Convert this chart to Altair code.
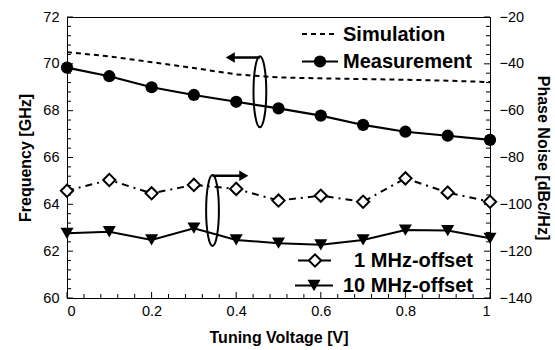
import altair as alt
import pandas as pd

# ---------------- data ----------------
voltage = [0.0, 0.1, 0.2, 0.3, 0.4, 0.5, 0.6, 0.7, 0.8, 0.9, 1.0]
sim_freq = [70.5, 70.32, 70.07, 69.82, 69.55, 69.42, 69.38, 69.35, 69.32, 69.28, 69.22]
meas_freq = [69.84, 69.47, 69.0, 68.67, 68.38, 68.1, 67.79, 67.39, 67.1, 66.93, 66.75]
pn_1mhz = [-94.2, -89.6, -95.3, -91.7, -93.4, -98.4, -96.3, -98.9, -88.9, -95.0, -98.9]
pn_10mhz = [-112.4, -111.7, -115.2, -110.2, -115.2, -116.6, -117.3, -115.2, -111.0, -111.2, -114.5]

x_ticks = [0, 0.2, 0.4, 0.6, 0.8, 1]
freq_ticks = [60, 62, 64, 66, 68, 70, 72]
pn_ticks = [-140, -120, -100, -80, -60, -40, -20]

x_minor = [round(i * 0.04, 2) for i in range(26)]
freq_minor = [round(60 + i * 0.4, 2) for i in range(31)]
pn_minor = [round(-140 + i * 4, 1) for i in range(31)]

W, H = 423, 281
FONT = "Liberation Sans"

df = pd.DataFrame({"v": voltage, "sim": sim_freq, "meas": meas_freq,
                   "pn1": pn_1mhz, "pn10": pn_10mhz})

xs = alt.Scale(domain=[0, 1], nice=False, zero=False)
fs = alt.Scale(domain=[60, 72], nice=False, zero=False)
ps = alt.Scale(domain=[-140, -20], nice=False, zero=False)

x_axis = alt.Axis(values=x_ticks, format="~g", title="Tuning Voltage [V]",
                  ticks=False, grid=False, labelPadding=6, titlePadding=12)
f_axis = alt.Axis(values=freq_ticks, format="d", title="Frequency [GHz]",
                  ticks=False, grid=False, labelPadding=8, titlePadding=9)
p_axis = alt.Axis(values=pn_ticks, format="d", title="Phase Noise [dBc/Hz]",
                  ticks=False, grid=False, orient="right", labelPadding=9, titlePadding=3)

X = alt.X("v:Q", scale=xs, axis=x_axis)

base = alt.Chart(df)

# frequency layers
sim_line = base.mark_line(color="black", strokeWidth=2, strokeDash=[5, 4]).encode(
    x=X, y=alt.Y("sim:Q", scale=fs, axis=f_axis))
meas_line = base.mark_line(color="black", strokeWidth=2.2).encode(
    x=X, y=alt.Y("meas:Q", scale=fs, axis=f_axis))
meas_pts = base.mark_point(shape="circle", filled=True, color="black", size=150, opacity=1).encode(
    x=X, y=alt.Y("meas:Q", scale=fs, axis=f_axis))

# minor/major ticks (inward)
fmaj = [v for v in freq_minor if abs(v / 2 - round(v / 2)) < 1e-6]
fmin = [v for v in freq_minor if v not in fmaj]
left_major = alt.Chart(pd.DataFrame({"f": fmaj})).mark_rule(color="black", strokeWidth=1).encode(
    y=alt.Y("f:Q", scale=fs, axis=f_axis), x=alt.value(0), x2=alt.value(6))
left_minor = alt.Chart(pd.DataFrame({"f": fmin})).mark_rule(color="black", strokeWidth=1).encode(
    y=alt.Y("f:Q", scale=fs, axis=f_axis), x=alt.value(0), x2=alt.value(4))

xmaj = [v for v in x_minor if abs(v * 5 - round(v * 5)) < 1e-6]
xmin = [v for v in x_minor if v not in xmaj]
bottom_major = alt.Chart(pd.DataFrame({"v": xmaj})).mark_rule(color="black", strokeWidth=1).encode(
    x=X, y=alt.value(H), y2=alt.value(H - 6))
bottom_minor = alt.Chart(pd.DataFrame({"v": xmin})).mark_rule(color="black", strokeWidth=1).encode(
    x=X, y=alt.value(H), y2=alt.value(H - 4))

# annotation: ellipses and arrows (in data coordinates)
ell_df = pd.DataFrame({"v": [0.456, 0.344], "f": [68.81, 63.74]})
ellipse_path = ("M0,-1 C0.099,-1 0.18,-0.552 0.18,0 C0.18,0.552 0.099,1 0,1 "
                "C-0.099,1 -0.18,0.552 -0.18,0 C-0.18,-0.552 -0.099,-1 0,-1 Z")
ellipses = alt.Chart(ell_df).mark_point(shape=ellipse_path, filled=False, color="black",
                                        strokeWidth=2, size=5041, opacity=1).encode(
    x=X, y=alt.Y("f:Q", scale=fs, axis=f_axis))

arr_df = pd.DataFrame({"v": [0.456, 0.344], "v2": [0.386, 0.418], "f": [70.27, 65.22],
                       "dir": ["triangle-left", "triangle-right"]})
arr_lines = alt.Chart(arr_df).mark_rule(color="black", strokeWidth=2.5).encode(
    x=X, x2="v2:Q", y=alt.Y("f:Q", scale=fs, axis=f_axis))
arr_heads = alt.Chart(arr_df).mark_point(filled=True, color="black", size=110, opacity=1).encode(
    x=alt.X("v2:Q", scale=xs, axis=x_axis), y=alt.Y("f:Q", scale=fs, axis=f_axis),
    shape=alt.Shape("dir:N", scale=None))

freq_layer = alt.layer(left_major, left_minor, bottom_major, bottom_minor,
                       sim_line, meas_line, meas_pts, ellipses, arr_lines, arr_heads)

# phase-noise layers
pn1_line = base.mark_line(color="black", strokeWidth=2, strokeDash=[7, 5, 2, 5]).encode(
    x=X, y=alt.Y("pn1:Q", scale=ps, axis=p_axis))
pn1_pts = base.mark_point(shape="diamond", filled=False, color="black", fill="white",
                          strokeWidth=2, size=150, opacity=1).encode(
    x=X, y=alt.Y("pn1:Q", scale=ps, axis=p_axis))
pn10_line = base.mark_line(color="black", strokeWidth=2).encode(
    x=X, y=alt.Y("pn10:Q", scale=ps, axis=p_axis))
pn10_pts = base.mark_point(shape="triangle-down", filled=True, color="black",
                           size=170, opacity=1).encode(
    x=X, y=alt.Y("pn10:Q", scale=ps, axis=p_axis))

pmaj = [v for v in pn_minor if abs(v / 20 - round(v / 20)) < 1e-6]
pmin = [v for v in pn_minor if v not in pmaj]
right_major = alt.Chart(pd.DataFrame({"p": pmaj})).mark_rule(color="black", strokeWidth=1).encode(
    y=alt.Y("p:Q", scale=ps, axis=p_axis), x=alt.value(W), x2=alt.value(W - 6))
right_minor = alt.Chart(pd.DataFrame({"p": pmin})).mark_rule(color="black", strokeWidth=1).encode(
    y=alt.Y("p:Q", scale=ps, axis=p_axis), x=alt.value(W), x2=alt.value(W - 4))

pn_layer = alt.layer(right_major, right_minor, pn1_line, pn10_line, pn1_pts, pn10_pts)

# ---------------- manual legend ----------------
one = alt.Data(values=[{"a": 1}])
LFS = 20
leg = []
# Simulation
leg.append(alt.Chart(one).mark_rule(color="black", strokeWidth=2, strokeDash=[5, 4]).encode(
    x=alt.value(235), x2=alt.value(271), y=alt.value(17)))
leg.append(alt.Chart(one).mark_text(text="Simulation", font=FONT, fontWeight="bold", fontSize=LFS,
                                    align="left", baseline="middle", color="black").encode(
    x=alt.value(276), y=alt.value(17.5)))
# Measurement
leg.append(alt.Chart(one).mark_rule(color="black", strokeWidth=2.2).encode(
    x=alt.value(235), x2=alt.value(271), y=alt.value(44.5)))
leg.append(alt.Chart(one).mark_point(shape="circle", filled=True, color="black", size=150, opacity=1).encode(
    x=alt.value(253), y=alt.value(44.5)))
leg.append(alt.Chart(one).mark_text(text="Measurement", font=FONT, fontWeight="bold", fontSize=LFS,
                                    align="left", baseline="middle", color="black").encode(
    x=alt.value(276), y=alt.value(45)))
# 1 MHz
leg.append(alt.Chart(one).mark_rule(color="black", strokeWidth=2).encode(
    x=alt.value(231), x2=alt.value(264), y=alt.value(243.5)))
leg.append(alt.Chart(one).mark_point(shape="diamond", filled=False, color="black", fill="white",
                                     strokeWidth=2, size=150, opacity=1).encode(
    x=alt.value(248), y=alt.value(243.5)))
leg.append(alt.Chart(one).mark_text(text="1 MHz-offset", font=FONT, fontWeight="bold", fontSize=LFS,
                                    align="right", baseline="middle", color="black").encode(
    x=alt.value(406), y=alt.value(244)))
# 10 MHz
leg.append(alt.Chart(one).mark_rule(color="black", strokeWidth=2).encode(
    x=alt.value(228), x2=alt.value(266), y=alt.value(268.5)))
leg.append(alt.Chart(one).mark_point(shape="triangle-down", filled=True, color="black",
                                     size=170, opacity=1).encode(
    x=alt.value(247), y=alt.value(268.5)))
leg.append(alt.Chart(one).mark_text(text="10 MHz-offset", font=FONT, fontWeight="bold", fontSize=LFS,
                                    align="right", baseline="middle", color="black").encode(
    x=alt.value(406), y=alt.value(268.5)))

legend_layer = alt.layer(*leg)

chart = alt.layer(freq_layer, pn_layer, legend_layer).resolve_scale(
    y="independent"
).properties(
    width=W, height=H,
    autosize=alt.AutoSizeParams(type="none"),
    padding={"left": 67, "top": 17, "right": 65, "bottom": 52},
    background="white",
).configure_view(
    stroke="black", strokeWidth=1
).configure_axis(
    labelFont=FONT, labelFontSize=14.5, labelColor="black",
    titleFont=FONT, titleFontSize=16, titleFontWeight="bold", titleColor="black",
    domainColor="black", domainWidth=1,
)

chart.save("out.html", embed_options={"renderer": "svg", "actions": False})
